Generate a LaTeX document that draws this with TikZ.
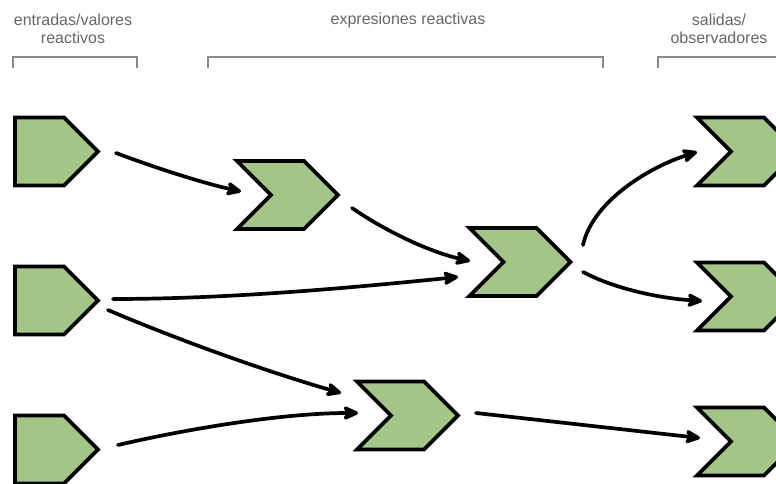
\documentclass[tikz,border=0pt]{standalone}
\usepackage{fontspec}
\setmainfont{Liberation Sans}
\usetikzlibrary{shapes.symbols,arrows.meta}
\definecolor{shapegreen}{HTML}{A3C585}
\definecolor{bracketgray}{HTML}{8A8A8A}
\definecolor{labelgray}{HTML}{666666}
\tikzset{
  source/.style={signal, signal to=east, signal pointer angle=90,
    draw=black, line width=3.8pt, fill=shapegreen, inner sep=0pt, outer sep=0pt,
    minimum width=83pt, minimum height=68pt},
  stage/.style={signal, signal to=east, signal from=west, signal pointer angle=90,
    draw=black, line width=3.8pt, fill=shapegreen, inner sep=0pt, outer sep=0pt,
    minimum width=101pt, minimum height=68pt},
  conn/.style={draw=black, line width=3.7pt, line cap=round,
    -{Stealth[length=19pt,width=17pt,inset=5pt,round=false]}},
  grpline/.style={draw=bracketgray, line width=1.4pt},
  grplabel/.style={text=labelgray, align=center, inner sep=0pt,
    font=\fontsize{16}{18}\selectfont}
}
\begin{document}
\begin{tikzpicture}[x=1pt,y=-1pt]
  \useasboundingbox (0,0) rectangle (776,484);
  \clip (0,0) rectangle (776,484);

  % group labels and brackets
  \node[grplabel] (lblin) at (73,29) {entradas/valores\\reactivos};
  \node[grplabel] (lblexpr) at (408,20) {expresiones reactivas};
  \node[grplabel] (lblout) at (719,29) {salidas/\\observadores};
  \draw[grpline] (13,68) -- (13,57) -- (137,57) -- (137,68);
  \draw[grpline] (208,68) -- (208,57) -- (603,57) -- (603,68);
  \draw[grpline] (658,68) -- (658,57) -- (780,57);

  % reactive sources (the node centre sits on the box part, left of the point)
  \node[source] (in1) at (39.5,151.5) {};
  \node[source] (in2) at (39.5,300.5) {};
  \node[source] (in3) at (39.5,449.5) {};

  % reactive expressions
  \node[stage] (c1) at (287.5,195) {};
  \node[stage] (c2) at (520,262) {};
  \node[stage] (c3) at (407.5,415.5) {};

  % observers
  \node[stage] (o1) at (747.5,151.5) {};
  \node[stage] (o2) at (747.5,296.5) {};
  \node[stage] (o3) at (747.5,441.5) {};

  % dependencies
  \draw[conn] ([shift={(76.5,1.5)}]in1.center) .. controls +(40,15) and +(-40,-9) .. ([shift={(-46.5,-3.5)}]c1.center);
  \draw[conn] ([shift={(64.5,13)}]c1.center) .. controls +(35,24) and +(-40,-9) .. ([shift={(-50,-1)}]c2.center);
  \draw[conn] ([shift={(73.5,-1.5)}]in2.center) .. controls +(120,0) and +(-100,10) .. ([shift={(-62,15)}]c2.center);
  \draw[conn] ([shift={(68.5,9.5)}]in2.center) .. controls +(70,30) and +(-70,-20) .. ([shift={(-66.5,-22.5)}]c3.center);
  \draw[conn] ([shift={(78.5,-4.5)}]in3.center) .. controls +(60,-14) and +(-80,0) .. ([shift={(-49.5,-2.5)}]c3.center);
  \draw[conn] ([shift={(68.5,-2.5)}]c3.center) -- ([shift={(-47.5,-3.5)}]o3.center);
  \draw[conn] ([shift={(63,-17)}]c2.center) .. controls +(10,-45) and +(-45,14) .. ([shift={(-50.5,0.5)}]o1.center);
  \draw[conn] ([shift={(63,10)}]c2.center) .. controls +(30,16) and +(-45,-3) .. ([shift={(-45.5,4.5)}]o2.center);
\end{tikzpicture}
\end{document}
